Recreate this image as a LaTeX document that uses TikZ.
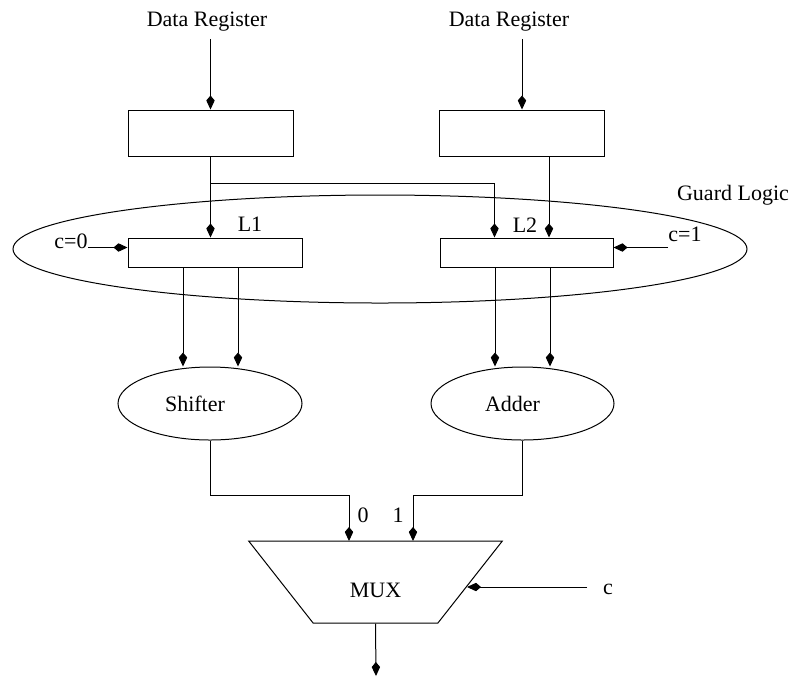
\documentclass[tikz,border=0pt]{standalone}
\usepackage{fontspec}
\setmainfont{Liberation Serif}
\usetikzlibrary{arrows.meta,shapes.geometric,positioning,calc}

\begin{document}
\begin{tikzpicture}
  [x=0.5pt,y=-0.5pt,line width=0.5pt,
   >={Kite[length=7pt,width=4.2pt,inset=2.5pt]},
   every node/.style={font=\fontsize{11}{13}\selectfont},
   reg/.style={rectangle,draw,minimum width=82.5pt,minimum height=23pt,inner sep=0pt},
   latch/.style={rectangle,draw,minimum width=87pt,minimum height=14.5pt,inner sep=0pt},
   unit/.style={ellipse,draw,minimum width=92pt,minimum height=36.5pt,inner sep=0pt}]

  \useasboundingbox (0,0) rectangle (792,677);

  % registers and latches
  \node (dr1) at (207,22) {Data Register};
  \node (dr2) at (509,22) {Data Register};
  \node[reg] (reg1) at (210.5,133) {};
  \node[reg] (reg2) at (522,133) {};
  \node[ellipse,draw,minimum width=367pt,minimum height=54pt,inner sep=0pt] (guard) at (380,249) {};
  \node (guardtxt) at (733,195) {Guard Logic};
  \node[latch] (l1) at (215,252.5) {};
  \node[latch,minimum width=86.5pt] (l2) at (526.5,252.5) {};
  \node (l1txt) at (250,224) {L1};
  \node (l2txt) at (525,225) {L2};
  \node (c0) at (71,241) {c=0};
  \node (c1) at (685,234) {c=1};
  \coordinate (c0in) at (88,247.5);
  \coordinate (c1in) at (668,247.5);

  % functional units and mux
  \node[unit,label={[xshift=-7.5pt]center:Shifter}] (shifter) at (210,403.5) {};
  \node[unit,minimum width=91.5pt,label={[xshift=-5pt]center:Adder}] (adder) at (522.5,403.5) {};
  \node[trapezium,draw,trapezium angle=52,shape border rotate=180,trapezium stretches=true,
        minimum width=127.5pt,minimum height=41pt,inner sep=2pt,text height=15.5pt] (mux) at (375.5,582) {MUX};
  \node (in0txt) at (363,515) {0};
  \node (in1txt) at (398,515) {1};
  \node (ctxt) at (608,589) {c};
  \coordinate (in0) at (349,541);
  \coordinate (in1) at (413,541);
  \coordinate (cst) at (587,587);
  \coordinate (cin) at (467,587);
  \coordinate (out) at (376,676);
  \coordinate (split) at (210.5,183);

  % wires
  \draw[->] (reg1.north |- dr1.south) -- (reg1.north);
  \draw[->] (reg2.north |- dr2.south) -- (reg2.north);
  \draw[->] (reg1.south) -- (reg1.south |- l1.north);
  \draw[->] (split) -| ([xshift=-16pt]l2.north);
  \draw[->] ([xshift=13.5pt]reg2.south) -- ([xshift=13.5pt]reg2.south |- l2.north);
  \draw[->] (c0in) -- (c0in -| l1.west);
  \draw[->] (c1in) -- (c1in -| l2.east);
  \draw[->] ([xshift=-16pt]l1.south) -- ([xshift=-16pt]l1.south |- shifter.north);
  \draw[->] ([xshift=11.5pt]l1.south) -- ([xshift=11.5pt]l1.south |- shifter.north);
  \draw[->] ([xshift=-15.75pt]l2.south) -- ([xshift=-15.75pt]l2.south |- adder.north);
  \draw[->] ([xshift=11.75pt]l2.south) -- ([xshift=11.75pt]l2.south |- adder.north);
  \draw[->] (shifter.south) -- ++(0,55) -| (in0);
  \draw[->] (adder.south) -- ++(0,55) -| (in1);
  \draw[->] (cst) -- (cin);
  \draw[->] (mux.south) -- (out);

\end{tikzpicture}
\end{document}
